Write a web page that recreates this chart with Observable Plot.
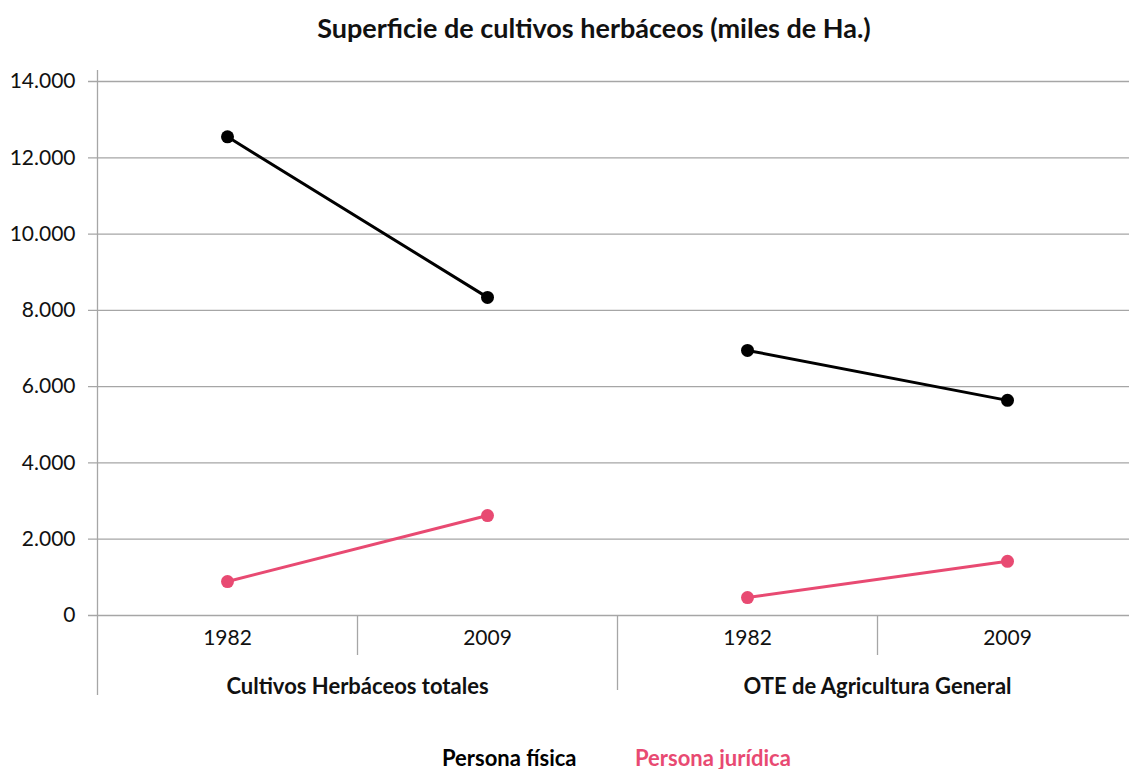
<!DOCTYPE html>
<html><head><meta charset="utf-8">
<script src="https://cdn.jsdelivr.net/npm/d3@7"></script>
<script src="https://cdn.jsdelivr.net/npm/@observablehq/plot@0.6"></script>
<style>
html,body{margin:0;padding:0;background:#fff;overflow:hidden;width:1129px;height:769px;position:relative}
#title{position:absolute;left:0;top:12px;width:1188px;text-align:center;font:bold 27px Lato,sans-serif;line-height:32px;color:#111;white-space:nowrap}
#chart{position:absolute;left:0;top:55px;width:1137px}
#chart svg{max-width:none !important;height:660px !important}
.leg{position:absolute;top:745px;font:bold 22px Lato,sans-serif;line-height:26px;white-space:nowrap}
</style>
</head><body>
<div id="title">Superficie de cultivos herbáceos (miles de Ha.)</div>
<div id="chart"></div>
<div class="leg" id="leg0" style="left:442px;color:#000"></div>
<div class="leg" id="leg1" style="left:635px;color:#e84a72"></div>
<script>
const groups = ["Cultivos Herbáceos totales", "OTE de Agricultura General"];
const years = ["1982", "2009"];
const series = ["Persona física", "Persona jurídica"];
const colors = ["#000000", "#e84a72"];
const fisica = [12550, 8340, 6950, 5640];
const juridica = [890, 2620, 470, 1420];
const yTicks = [0, 2000, 4000, 6000, 8000, 10000, 12000, 14000];

const loc = d3.formatLocale({decimal: ",", thousands: ".", grouping: [3], currency: ["", "€"]});
const fmt = loc.format(",d");

const rows = [];
[fisica, juridica].forEach((vals, s) => {
  vals.forEach((v, i) => {
    rows.push({pos: i + 0.5, group: groups[Math.floor(i / 2)], year: years[i % 2], value: v, series: series[s], key: series[s] + "|" + groups[Math.floor(i / 2)]});
  });
});
const slots = rows.filter(d => d.series === series[0]);
const groupPos = groups.map((g, gi) => ({g, pos: gi * 2 + 1}));

document.getElementById("leg0").textContent = series[0];
document.getElementById("leg1").textContent = series[1];

const grid = "#a6a6a6";
const chart = Plot.plot({
  width: 1137, height: 660,
  marginTop: 26, marginBottom: 100, marginLeft: 97, marginRight: 0,
  style: {fontFamily: "Lato, sans-serif", background: "transparent", color: "#111", maxWidth: "none"},
  x: {type: "linear", domain: [0, 4], axis: null},
  y: {domain: [0, 14000], axis: null},
  color: {domain: series, range: colors},
  marks: [
    Plot.ruleY(yTicks, {stroke: grid, strokeWidth: 1.3, insetLeft: -9}),
    Plot.ruleX([0], {stroke: grid, strokeWidth: 1.3, insetTop: -11, insetBottom: -80}),
    Plot.ruleX([1, 3], {y1: 0, y2: 0, stroke: grid, strokeWidth: 1.3, insetBottom: -40}),
    Plot.ruleX([2], {y1: 0, y2: 0, stroke: grid, strokeWidth: 1.3, insetBottom: -75}),
    Plot.axisY(yTicks, {tickSize: 0, tickPadding: 22, tickFormat: fmt, fontSize: 21, fill: "#111", label: null}),
    Plot.line(rows, {x: "pos", y: "value", z: "key", stroke: "series", strokeWidth: 3}),
    Plot.dot(rows, {x: "pos", y: "value", fill: "series", r: 6.5}),
    Plot.text(slots, {x: "pos", text: "year", frameAnchor: "bottom", dy: 29, fontSize: 21, fill: "#111"}),
    Plot.text(groupPos, {x: "pos", text: "g", frameAnchor: "bottom", dy: 78, fontSize: 22, fontWeight: "bold", fill: "#111"})
  ]
});
document.getElementById("chart").appendChild(chart);
</script>
</body></html>
